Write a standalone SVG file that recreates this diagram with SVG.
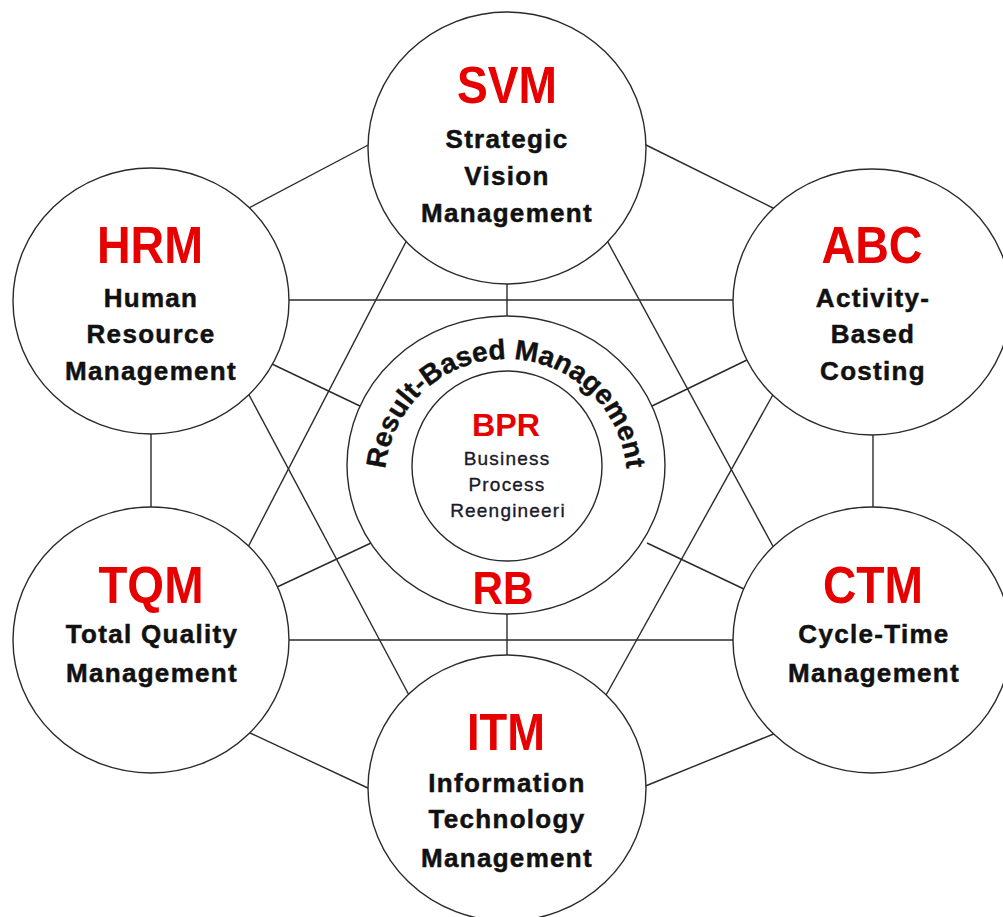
<svg xmlns="http://www.w3.org/2000/svg" xmlns:xlink="http://www.w3.org/1999/xlink" width="1003" height="917" viewBox="0 0 1003 917">
<style>
.node{fill:#fff;stroke:#2a2a2a;stroke-width:1.4}
.con line{stroke:#2a2a2a;stroke-width:1.4}
.abbr{font-family:"Liberation Sans",Arial,sans-serif;font-size:52px;font-weight:bold;fill:#e60000;text-anchor:middle}
.lbl{font-family:"Liberation Sans",Arial,sans-serif;font-size:26px;font-weight:bold;fill:#111;stroke:#111;stroke-width:0.5;text-anchor:middle;letter-spacing:1.3px}
.small{font-family:"Liberation Sans",Arial,sans-serif;font-size:19px;fill:#1a1a2a;stroke:#1a1a2a;stroke-width:0.35;text-anchor:middle;letter-spacing:1.2px}
.arc{font-family:"Liberation Sans",Arial,sans-serif;font-size:28px;font-weight:bold;fill:#111;stroke:#111;stroke-width:0.4}
</style>
<defs>
<path id="arcpath" d="M 385 480 A 121 121 0 0 1 627 480"/>
</defs>
<rect width="1003" height="917" fill="#fff"/>
<g id="connectors" class="con">
<line x1="245" y1="210" x2="372" y2="143"/>
<line x1="642" y1="143" x2="777" y2="210"/>
<line x1="285" y1="300" x2="738" y2="300"/>
<line x1="151" y1="430" x2="151" y2="512"/>
<line x1="873" y1="430" x2="873" y2="512"/>
<line x1="285" y1="640" x2="738" y2="640"/>
<line x1="248" y1="732" x2="370" y2="789"/>
<line x1="776" y1="733" x2="643" y2="787"/>
<line x1="410" y1="234" x2="247" y2="549"/>
<line x1="603" y1="233" x2="775" y2="550"/>
<line x1="248" y1="393" x2="410" y2="697"/>
<line x1="775" y1="391" x2="605" y2="697"/>
<line x1="507" y1="280" x2="507" y2="320"/>
<line x1="507" y1="610" x2="507" y2="660"/>
<line x1="272" y1="364" x2="362" y2="407"/>
<line x1="749" y1="359" x2="650" y2="407"/>
<line x1="275" y1="588" x2="371" y2="543"/>
<line x1="746" y1="590" x2="647" y2="543"/>
</g>
<g id="SVM">
<ellipse class="node" cx="507" cy="148" rx="139" ry="136"/>
<text class="abbr" x="507" y="103" textLength="100" lengthAdjust="spacingAndGlyphs">SVM</text>
<text class="lbl" x="507" y="148">Strategic</text>
<text class="lbl" x="507" y="185">Vision</text>
<text class="lbl" x="507" y="222">Management</text>
</g>
<g id="HRM">
<ellipse class="node" cx="151" cy="301" rx="138" ry="133"/>
<text class="abbr" x="150" y="263" textLength="106" lengthAdjust="spacingAndGlyphs">HRM</text>
<text class="lbl" x="151" y="307">Human</text>
<text class="lbl" x="151" y="343">Resource</text>
<text class="lbl" x="151" y="380">Management</text>
</g>
<g id="ABC">
<ellipse class="node" cx="872" cy="302" rx="139" ry="133"/>
<text class="abbr" x="872" y="263" textLength="101" lengthAdjust="spacingAndGlyphs">ABC</text>
<text class="lbl" x="873" y="307">Activity-</text>
<text class="lbl" x="873" y="343">Based</text>
<text class="lbl" x="873" y="380">Costing</text>
</g>
<g id="TQM">
<ellipse class="node" cx="151" cy="640" rx="138" ry="133"/>
<text class="abbr" x="151" y="603" textLength="105" lengthAdjust="spacingAndGlyphs">TQM</text>
<text class="lbl" x="152" y="643">Total Quality</text>
<text class="lbl" x="152" y="682">Management</text>
</g>
<g id="CTM">
<ellipse class="node" cx="872" cy="640" rx="139" ry="133"/>
<text class="abbr" x="873" y="603" textLength="100" lengthAdjust="spacingAndGlyphs">CTM</text>
<text class="lbl" x="874" y="643">Cycle-Time</text>
<text class="lbl" x="874" y="682">Management</text>
</g>
<g id="ITM">
<ellipse class="node" cx="507" cy="788" rx="139" ry="133"/>
<text class="abbr" x="506" y="750" textLength="78" lengthAdjust="spacingAndGlyphs">ITM</text>
<text class="lbl" x="507" y="792">Information</text>
<text class="lbl" x="507" y="828">Technology</text>
<text class="lbl" x="507" y="867">Management</text>
</g>
<g id="RBM">
<ellipse class="node" cx="506" cy="465" rx="159" ry="149"/>
<text class="arc"><textPath xlink:href="#arcpath" href="#arcpath" startOffset="50%" text-anchor="middle">Result-Based Management</textPath></text>
<text class="abbr" x="503" y="604" style="font-size:46px" textLength="61" lengthAdjust="spacingAndGlyphs">RB</text>
</g>
<g id="BPR">
<ellipse class="node" cx="507" cy="466" rx="95" ry="95"/>
<text class="abbr" x="506" y="436" style="font-size:32px" textLength="68" lengthAdjust="spacingAndGlyphs">BPR</text>
<text class="small" x="507" y="465">Business</text>
<text class="small" x="507" y="491">Process</text>
<text class="small" x="508" y="517">Reengineeri</text>
</g>
</svg>
